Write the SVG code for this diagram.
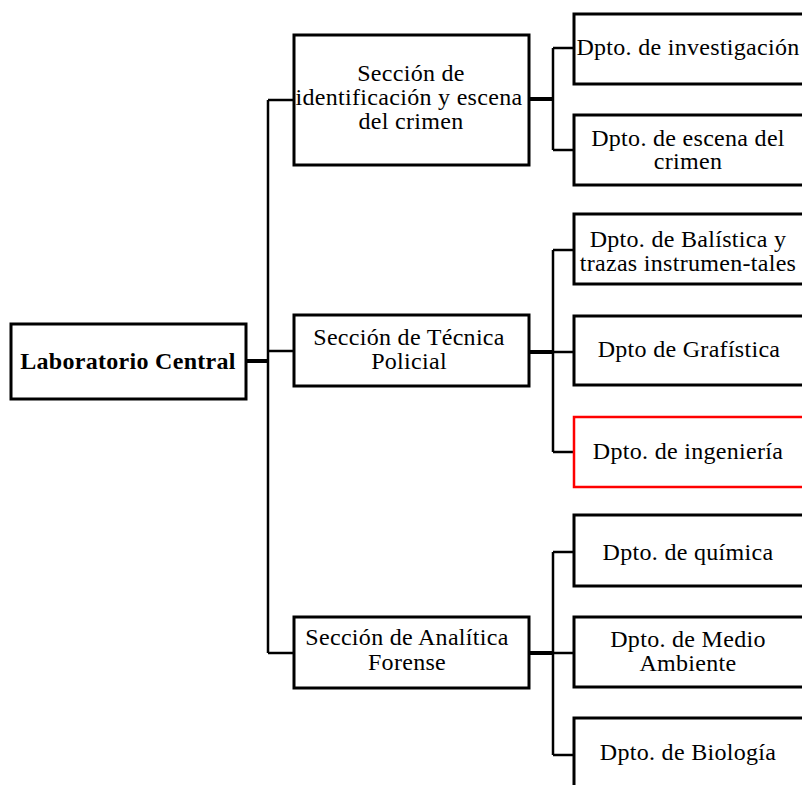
<svg xmlns="http://www.w3.org/2000/svg" width="802" height="785" viewBox="0 0 802 785">
<style>
  .box { fill: #ffffff; stroke: #000000; stroke-width: 3; }
  .red { stroke: #ff0000; stroke-width: 2.5; }
  .ln { fill: none; stroke: #000000; stroke-width: 2.5; }
  .thick { fill: none; stroke: #000000; stroke-width: 4; }
  text { font-family: "Liberation Serif", "Times New Roman", serif; font-size: 24px; fill: #000000; text-anchor: middle; letter-spacing: 0.3px; }
  .bold { font-weight: bold; }
</style>
<rect width="802" height="785" fill="#ffffff"/>
<g id="connectors">
  <path class="thick" d="M246,361 H268"/>
  <path class="ln" d="M268,100 V653"/>
  <path class="ln" d="M268,100 H294"/>
  <path class="ln" d="M268,351 H294"/>
  <path class="ln" d="M268,653 H294"/>
  <path class="thick" d="M529,99 H553"/>
  <path class="ln" d="M553,48 V150"/>
  <path class="ln" d="M553,48 H574"/>
  <path class="ln" d="M553,150 H574"/>
  <path class="thick" d="M529,352 H553"/>
  <path class="ln" d="M553,250 V452"/>
  <path class="ln" d="M553,250 H574"/>
  <path class="ln" d="M553,352 H574"/>
  <path class="ln" d="M553,452 H574"/>
  <path class="thick" d="M529,653 H553"/>
  <path class="ln" d="M553,552 V755"/>
  <path class="ln" d="M553,552 H574"/>
  <path class="ln" d="M553,653 H574"/>
  <path class="ln" d="M553,755 H574"/>
</g>
<g id="lab-central">
  <rect class="box" x="11" y="324" width="235" height="75"/>
  <text class="bold" x="128" y="369">Laboratorio Central</text>
</g>
<g id="sec-identificacion">
  <rect class="box" x="294" y="35" width="235" height="130"/>
  <text x="411" y="81">Sección de</text>
  <text x="409" y="105">identificación y escena</text>
  <text x="411" y="129">del crimen</text>
</g>
<g id="sec-tecnica">
  <rect class="box" x="294" y="315" width="235" height="71"/>
  <text x="409" y="345">Sección de Técnica</text>
  <text x="409" y="369">Policial</text>
</g>
<g id="sec-analitica">
  <rect class="box" x="294" y="617" width="235" height="71"/>
  <text x="407" y="645">Sección de Analítica</text>
  <text x="407" y="670">Forense</text>
</g>
<g id="dpto-investigacion">
  <rect class="box" x="574" y="14" width="240" height="70"/>
  <text x="688" y="55">Dpto. de investigación</text>
</g>
<g id="dpto-escena">
  <rect class="box" x="574" y="115" width="240" height="70"/>
  <text x="688" y="146">Dpto. de escena del</text>
  <text x="688" y="169">crimen</text>
</g>
<g id="dpto-balistica">
  <rect class="box" x="574" y="214" width="240" height="70"/>
  <text x="688" y="247">Dpto. de Balística y</text>
  <text x="688" y="271">trazas instrumen-tales</text>
</g>
<g id="dpto-grafistica">
  <rect class="box" x="574" y="316" width="240" height="69"/>
  <text x="689" y="357">Dpto de Grafística</text>
</g>
<g id="dpto-ingenieria">
  <rect class="box red" x="574" y="417" width="240" height="70"/>
  <text x="688" y="459">Dpto. de ingeniería</text>
</g>
<g id="dpto-quimica">
  <rect class="box" x="574" y="515" width="240" height="71"/>
  <text x="688" y="560">Dpto. de química</text>
</g>
<g id="dpto-medio-ambiente">
  <rect class="box" x="574" y="617" width="240" height="70"/>
  <text x="688" y="647">Dpto. de Medio</text>
  <text x="688" y="671">Ambiente</text>
</g>
<g id="dpto-biologia">
  <rect class="box" x="574" y="718" width="240" height="80"/>
  <text x="688" y="760">Dpto. de Biología</text>
</g>
</svg>
